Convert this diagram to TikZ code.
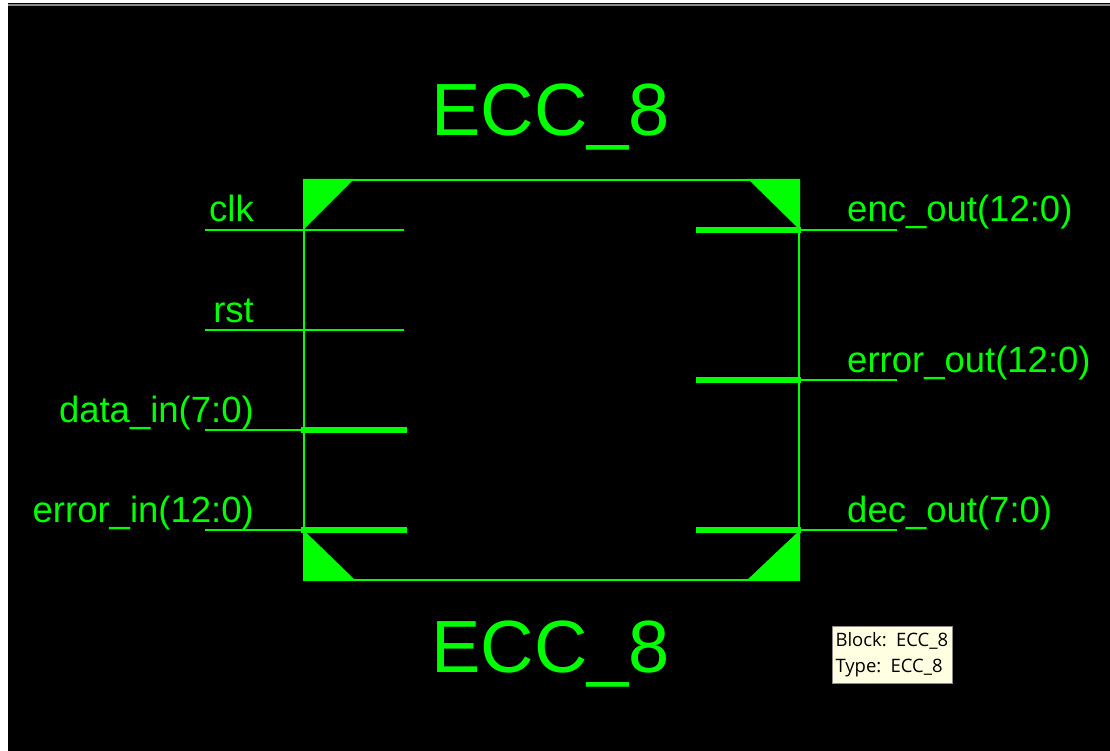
\documentclass[tikz,border=0pt]{standalone}
\usepackage{fontspec}
\setmainfont{Liberation Sans}
\newfontfamily\tipfont{Open Sans}
\definecolor{eccgreen}{HTML}{00FF00}
\definecolor{ecctip}{HTML}{FFFFE1}
\definecolor{eccstrip}{HTML}{8C8C8C}
\tikzset{
  thinpin/.style={draw=eccgreen,line width=1.5pt},
  buspin/.style={draw=eccgreen,line width=6.2pt},
  portlabel/.style={text=eccgreen,inner sep=0pt,font=\fontsize{36.5}{36.5}\selectfont},
  titlelabel/.style={text=eccgreen,inner sep=0pt,anchor=base,font=\fontsize{74}{74}\selectfont},
}

\begin{document}
\begin{tikzpicture}[x=1pt,y=-1pt,line join=miter]
  % Match the screenshot frame, window edges included.
  \useasboundingbox (0,0) rectangle (1110,751);
  \fill[white] (0,0) rectangle (1110,751);
  \fill[black] (8,3) rectangle (1110,751);
  \fill[eccstrip] (8,4.5) rectangle (1110,6.5);

  % Block corners.
  \coordinate (tl) at (304,180);
  \coordinate (tr) at (799,180);
  \coordinate (br) at (799,580);
  \coordinate (bl) at (304,580);

  \draw[thinpin] (tl) -- (tr) -- (br) -- (bl) -- cycle;

  % Corner wedges sit on the outline.
  \fill[eccgreen] (303.5,179) -- (354,179) -- (303.5,229.5) -- cycle;
  \fill[eccgreen] (748,179) -- (800,179) -- (800,230) -- cycle;
  \fill[eccgreen] (303.5,530) -- (356,581) -- (303.5,581) -- cycle;
  \fill[eccgreen] (800,530) -- (800,581) -- (746,581) -- cycle;

  % Input pins: name, height, label.
  \foreach \p/\y/\t in {clk/230/clk,rst/330/rst,data/430/data\_in(7:0),errin/530/error\_in(12:0)} {
    \coordinate (\p a) at (205,\y);
    \coordinate (\p b) at (404,\y);
    \draw[thinpin] (\p a) -- (\p b);
    \node[portlabel,anchor=base east] (\p label) at (254,\y-8) {\t};
  }

  % Output pins: name, height, label.
  \foreach \p/\y/\t in {enc/230/enc\_out(12:0),errout/380/error\_out(12:0),dec/530/dec\_out(7:0)} {
    \coordinate (\p a) at (897,\y);
    \coordinate (\p b) at (696,\y);
    \draw[thinpin] (\p a) -- (\p b);
    \node[portlabel,anchor=base west] (\p label) at (847,\y-8) {\t};
  }

  % Bus pins are thick up to the block edge.
  \foreach \p in {data,errin} {
    \coordinate (\p c) at (300.7,0 |- \p a);
    \coordinate (\p d) at (406.5,0 |- \p a);
    \draw[buspin] (\p c) -- (\p d);
  }
  \foreach \p in {enc,errout,dec} {
    \coordinate (\p c) at (801.3,0 |- \p a);
    \coordinate (\p d) at (695.7,0 |- \p a);
    \draw[buspin] (\p c) -- (\p d);
  }

  \node[titlelabel] (titletop) at (550.5,136) {ECC\_8};
  \node[titlelabel] (titlebot) at (550.5,672) {ECC\_8};

  % Hover tip.
  \node[draw=eccstrip,fill=ecctip,line width=1pt,text width=113pt,minimum height=57pt,
    inner xsep=3.5pt,inner ysep=0pt,anchor=north west,align=left,text=black,
    font=\tipfont\fontsize{18.5}{26}\selectfont] (tip) at (831.5,625.5) {Block: ECC\_8\\Type: ECC\_8};
\end{tikzpicture}
\end{document}
